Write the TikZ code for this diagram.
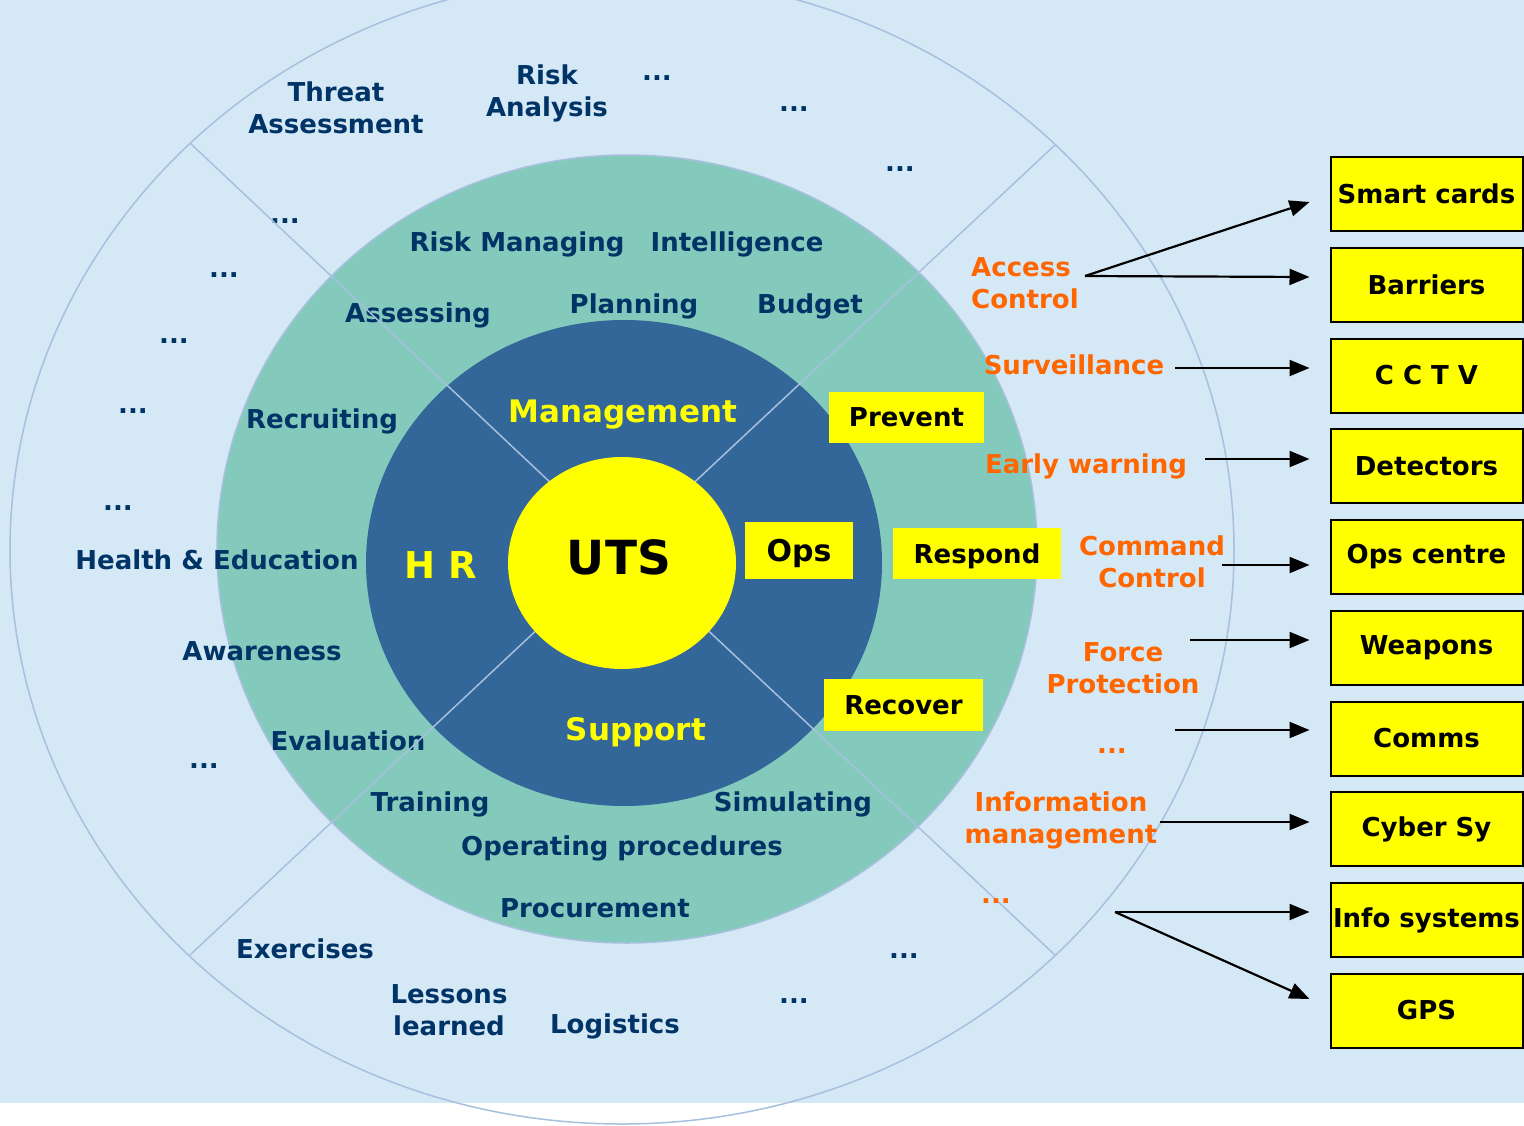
\documentclass[tikz,border=0pt]{standalone}
\usepackage{fontspec}
\setmainfont{DejaVu Sans}
\usetikzlibrary{arrows.meta}
\definecolor{bgblue}{HTML}{D5E8F6}
\definecolor{teal1}{HTML}{84CABC}
\definecolor{dblue}{HTML}{336699}
\definecolor{navytxt}{HTML}{003366}
\definecolor{orangetxt}{HTML}{FF6600}
\definecolor{spoke}{HTML}{A7C0DE}
\definecolor{yel}{HTML}{FFFF00}
\begin{document}
\begin{tikzpicture}[x=1pt,y=-1pt,
  lab/.style={font=\fontsize{26}{32}\selectfont\bfseries, inner sep=0pt, align=center},
  navy/.style={lab, text=navytxt},
  org/.style={lab, text=orangetxt},
  inner/.style={lab, text=yel, font=\fontsize{31}{36}\selectfont\bfseries},
  ybox/.style={lab, fill=yel, text=black, draw=black, line width=2pt, minimum width=192pt, minimum height=74pt},
  tagbox/.style={lab, fill=yel, text=black, text depth=0pt},
  arr/.style={-{Triangle[length=20pt,width=16pt]}, line width=2.2pt, black},
  spk/.style={draw=spoke, line width=1.5pt}]
\useasboundingbox (0,0) rectangle (1524,1125);
\fill[white] (0,0) rectangle (1524,1125);
\fill[bgblue] (0,0) rectangle (1524,1103);
% rings
\draw[spk] (622,550) ellipse [x radius=612pt, y radius=574pt];
\filldraw[fill=teal1, draw=spoke, line width=1.5pt] (627,549) ellipse [x radius=410pt, y radius=394pt];
\fill[dblue] (624,563) ellipse [x radius=258pt, y radius=243pt];
% navy labels
\node[navy] (threat) at (336,108) {Threat\\Assessment};
\node[navy] (riskan) at (547,93) {Risk\\Analysis};
\node[navy] (d1) at (657,78) {...};
\node[navy] (d2) at (794,109) {...};
\node[navy] (d3) at (900,169) {...};
\node[navy] (d4) at (285,221) {...};
\node[navy] (d5) at (224,275) {...};
\node[navy] (d6) at (174,341) {...};
\node[navy] (d7) at (133,411) {...};
\node[navy] (d8) at (118,508) {...};
\node[navy] (health) at (217,560) {Health \& Education};
\node[navy] (aware) at (262,651) {Awareness};
\node[navy] (d9) at (204,766) {...};
\node[navy] (evalu) at (348,741) {Evaluation};
\node[navy] (riskman) at (517,244) {Risk Managing};
\node[navy] (intel) at (737,244) {Intelligence};
\node[navy] (assess) at (418,315) {Assessing};
\node[navy] (plan) at (634,306) {Planning};
\node[navy] (budget) at (810,306) {Budget};
\node[navy] (recruit) at (322,421) {Recruiting};
\node[navy] (train) at (430,804) {Training};
\node[navy] (simul) at (793,804) {Simulating};
\node[navy] (opproc) at (622,848) {Operating procedures};
\node[navy] (procur) at (595,908) {Procurement};
\node[navy] (exerc) at (305,949) {Exercises};
\node[navy] (lessons) at (449,1010) {Lessons\\learned};
\node[navy] (logist) at (615,1026) {Logistics};
\node[navy] (d10) at (904,956) {...};
\node[navy] (d11) at (794,1001) {...};
% spokes
\draw[spk] (190,143) -- (622,550);
\draw[spk] (1055,145) -- (622,550);
\draw[spk] (190,955) -- (622,550);
\draw[spk] (1055,955) -- (622,550);
% centre
\fill[yel] (622,563) ellipse [x radius=114pt, y radius=106pt];
\node[lab, text=black, font=\fontsize{47}{50}\selectfont\bfseries] (uts) at (619,557) {UTS};
\node[inner] (mgmt) at (623,415) {Management};
\node[inner, font=\fontsize{37}{40}\selectfont\bfseries] (hr) at (441,565) {H R};
\node[inner] (supp) at (636,732) {Support};
% tags
\node[tagbox, minimum width=108pt, minimum height=57pt, font=\fontsize{30}{34}\selectfont\bfseries] (ops) at (799,550.5) {Ops};
\node[tagbox, minimum width=155pt, minimum height=51pt] (prevent) at (906.5,417.5) {Prevent};
\node[tagbox, minimum width=168pt, minimum height=51pt] (respond) at (977,553.5) {Respond};
\node[tagbox, minimum width=159pt, minimum height=52pt] (recover) at (903.5,705) {Recover};
% orange labels
\node[org, anchor=west, align=left] (access) at (971,283) {Access\\Control};
\node[org] (surv) at (1074,365) {Surveillance};
\node[org] (early) at (1086,466) {Early warning};
\node[org] (command) at (1152,562) {Command\\Control};
\node[org] (force) at (1123,668) {Force\\Protection};
\node[org] (od1) at (1112,751) {...};
\node[org] (info) at (1061,820) {Information\\management};
\node[org] (od2) at (996,901) {...};
% boxes
\node[ybox] (smart) at (1426.5,194) {Smart cards};
\node[ybox] (barr) at (1426.5,284.5) {Barriers};
\node[ybox] (cctv) at (1426.5,375.5) {C C T V};
\node[ybox] (detect) at (1426.5,466) {Detectors};
\node[ybox] (opsc) at (1426.5,557) {Ops centre};
\node[ybox] (weap) at (1426.5,648) {Weapons};
\node[ybox] (comms) at (1426.5,738.5) {Comms};
\node[ybox] (cyber) at (1426.5,829) {Cyber Sy};
\node[ybox] (infos) at (1426.5,920) {Info systems};
\node[ybox] (gps) at (1426.5,1010.5) {GPS};
% arrow starts
\coordinate (sAC) at (1085,276);
\coordinate (sSV) at (1175,368);
\coordinate (sEW) at (1205,459);
\coordinate (sCC) at (1222,565);
\coordinate (sFP) at (1190,640);
\coordinate (sDD) at (1175,730);
\coordinate (sIM) at (1160,822);
\coordinate (sXX) at (1115,912);
% arrows
\draw[arr] (sAC) -- ([xshift=-20pt,yshift=-8pt]smart.west);
\draw[arr] (sAC) -- ([xshift=-20pt,yshift=7.5pt]barr.west);
\draw[arr] (sSV) -- ([xshift=-20pt,yshift=7.5pt]cctv.west);
\draw[arr] (sEW) -- ([xshift=-20pt,yshift=7pt]detect.west);
\draw[arr] (sCC) -- ([xshift=-20pt,yshift=-8pt]opsc.west);
\draw[arr] (sFP) -- ([xshift=-20pt,yshift=8pt]weap.west);
\draw[arr] (sDD) -- ([xshift=-20pt,yshift=8.5pt]comms.west);
\draw[arr] (sIM) -- ([xshift=-20pt,yshift=7pt]cyber.west);
\draw[arr] (sXX) -- ([xshift=-20pt,yshift=8pt]infos.west);
\draw[arr] (sXX) -- ([xshift=-20pt,yshift=11.5pt]gps.west);
\end{tikzpicture}
\end{document}
